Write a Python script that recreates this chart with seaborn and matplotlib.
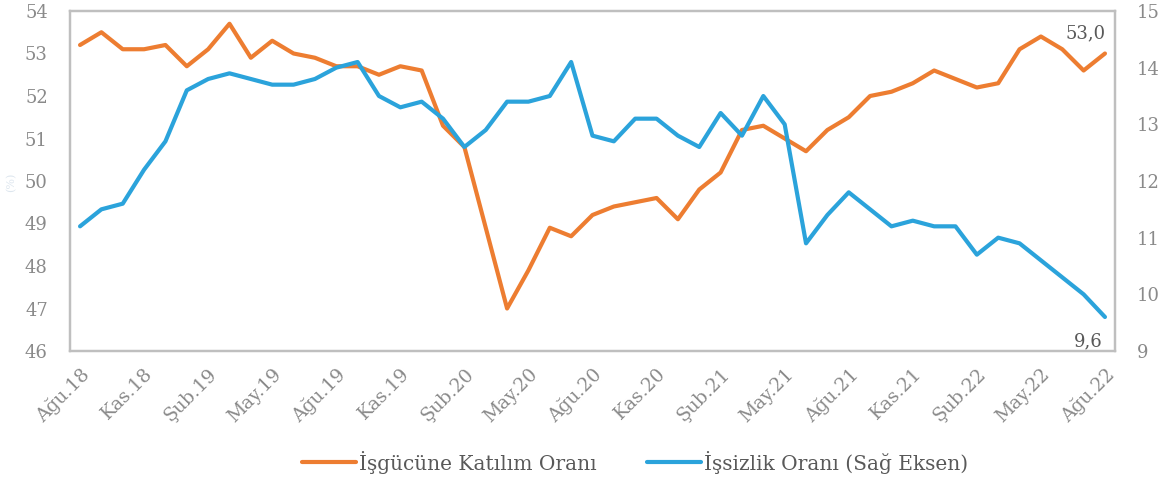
import matplotlib
matplotlib.use("Agg")
import matplotlib.pyplot as plt
from matplotlib.lines import Line2D
import seaborn as sns
import pandas as pd

# ---- data ----
month_abbr = ["Oca", "Şub", "Mar", "Nis", "May", "Haz", "Tem", "Ağu", "Eyl", "Eki", "Kas", "Ara"]
months = []
y, m = 2018, 7
for _ in range(49):
    months.append(f"{month_abbr[m]}.{str(y)[2:]}")
    m += 1
    if m == 12:
        m = 0
        y += 1

participation = [53.2, 53.5, 53.1, 53.1, 53.2, 52.7, 53.1, 53.7, 52.9, 53.3,
                 53.0, 52.9, 52.7, 52.7, 52.5, 52.7, 52.6, 51.3, 50.8, 48.9,
                 47.0, 47.9, 48.9, 48.7, 49.2, 49.4, 49.5, 49.6, 49.1, 49.8,
                 50.2, 51.2, 51.3, 51.0, 50.7, 51.2, 51.5, 52.0, 52.1, 52.3,
                 52.6, 52.4, 52.2, 52.3, 53.1, 53.4, 53.1, 52.6, 53.0]

unemployment = [11.2, 11.5, 11.6, 12.2, 12.7, 13.6, 13.8, 13.9, 13.8, 13.7,
                13.7, 13.8, 14.0, 14.1, 13.5, 13.3, 13.4, 13.1, 12.6, 12.9,
                13.4, 13.4, 13.5, 14.1, 12.8, 12.7, 13.1, 13.1, 12.8, 12.6,
                13.2, 12.8, 13.5, 13.0, 10.9, 11.4, 11.8, 11.5, 11.2, 11.3,
                11.2, 11.2, 10.7, 11.0, 10.9, 10.6, 10.3, 10.0, 9.6]

left_ticks = [46, 47, 48, 49, 50, 51, 52, 53, 54]
right_ticks = [9, 10, 11, 12, 13, 14, 15]
label_left = "İşgücüne Katılım Oranı"
label_right = "İşsizlik Oranı (Sağ Eksen)"

df = pd.DataFrame({"idx": range(len(months)), "month": months,
                   "part": participation, "unemp": unemployment})

# ---- style ----
sns.set_theme(style="white")
plt.rcParams["font.family"] = ["DejaVu Serif", "DejaVu Sans"]

orange = "#ED7D31"
blue = "#2BA3DB"
tick_col = "#8A8A8A"
frame_col = "#BFBFBF"

fig = plt.figure(figsize=(11.75, 4.82), dpi=100)
ax = fig.add_axes([70 / 1175, 1 - 351 / 482, (1115 - 70) / 1175, (351 - 11) / 482])
ax2 = ax.twinx()

sns.lineplot(data=df, x="idx", y="part", ax=ax, color=orange, linewidth=3.0)
sns.lineplot(data=df, x="idx", y="unemp", ax=ax2, color=blue, linewidth=3.0)

ax.set_xlim(-0.47, len(months) - 1 + 0.47)
ax.set_ylim(46, 54)
ax2.set_ylim(9, 15)
ax.set_yticks(left_ticks)
ax2.set_yticks(right_ticks)
ax.set_yticklabels([str(t) for t in left_ticks])
ax2.set_yticklabels([str(t) for t in right_ticks])

tick_idx = list(range(0, len(months), 3))
ax.set_xticks(tick_idx)
ax.set_xticklabels([months[i] for i in tick_idx], rotation=45, ha="right",
                   rotation_mode="anchor")

for a in (ax, ax2):
    a.tick_params(axis="both", length=0, colors=tick_col, labelsize=13)
    a.set_xlabel("")
    a.set_ylabel("")
    for s in a.spines.values():
        s.set_color(frame_col)
        s.set_linewidth(1.6)
ax.tick_params(axis="x", labelsize=13.5, pad=10)
ax.tick_params(axis="y", pad=16)
ax2.tick_params(axis="y", pad=16)
fig.text(6 / 1175, 1 - 182 / 482, "(%)", rotation=90, color="#DDE6EE",
         fontsize=8, ha="left", va="center")

# end-value annotations
ax.annotate(f"{participation[-1]:.1f}".replace(".", ","),
            xy=(len(months) - 1, participation[-1]), xytext=(-14, 8),
            textcoords="offset points", ha="center", va="bottom",
            color="#595959", fontsize=13)
ax2.annotate(f"{unemployment[-1]:.1f}".replace(".", ","),
             xy=(len(months) - 1, unemployment[-1]), xytext=(-12, -11),
             textcoords="offset points", ha="center", va="top",
             color="#595959", fontsize=13)

handles = [Line2D([0], [0], color=orange, linewidth=3.0),
           Line2D([0], [0], color=blue, linewidth=3.0)]
fig.legend(handles, [label_left, label_right], loc="center",
           bbox_to_anchor=(635 / 1175, 1 - 462 / 482), ncol=2, frameon=False,
           fontsize=14.5, handlelength=2.7, handletextpad=0.15, columnspacing=2.5,
           labelcolor="#595959")

fig.savefig("out.png", dpi=100)
